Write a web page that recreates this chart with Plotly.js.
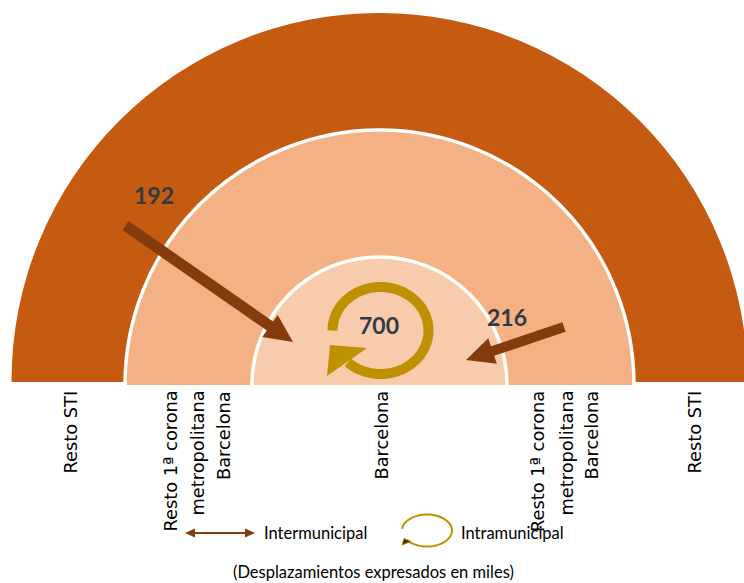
<!DOCTYPE html>
<html>
<head>
<meta charset="utf-8">
<script src="https://cdn.plot.ly/plotly-3.0.1.min.js"></script>
<style>html,body{margin:0;padding:0;background:#fff;}#chart{width:744px;height:583px;}</style>
</head>
<body>
<div id="chart"></div>
<script>
// ---- data ----
const outerLabel = ['Resto STI'];
const middleLabel = ['Resto 1ª corona', 'metropolitana', 'Barcelona'];
const innerLabel = ['Barcelona'];
const flowValues = [192, 700, 216];
const flowKinds = ['Intermunicipal', 'Intramunicipal', 'Intermunicipal'];
const legendLabels = ['Intermunicipal', 'Intramunicipal'];
const noteText = '(Desplazamientos expresados en miles)';

// ---- styles / geometry ----
const C_OUTER = '#C55A11', C_MID = '#F4B183', C_INNER = '#F8CBAD';
const C_ARROW = '#843C0C', C_GOLD = '#BF9000', C_NUM = '#333a44';
const LABEL_FONT = {family: 'DejaVu Sans, Verdana, sans-serif', size: 17.8, color: '#000'};
const SMALL_FONT = {family: 'Lato, Open Sans, sans-serif', size: 16.5, color: '#000'};

function circle(cx, cy, r, fill, lineW) {
  return {type: 'circle', xref: 'x', yref: 'y', x0: cx - r, x1: cx + r, y0: cy - r, y1: cy + r,
    fillcolor: fill, line: {color: '#fff', width: lineW}, layer: 'below'};
}
function rect(x0, y0, x1, y1, fill) {
  return {type: 'rect', xref: 'x', yref: 'y', x0, y0, x1, y1, fillcolor: fill, line: {width: 0}, layer: 'below'};
}
function arrowPath(x0, y0, x1, y1, sw, hw, hl) {
  const dx = x1 - x0, dy = y1 - y0, L = Math.hypot(dx, dy);
  const ux = dx / L, uy = dy / L, nx = -uy, ny = ux;
  const bx = x1 - ux * hl, by = y1 - uy * hl;
  const p = [
    [x0 + nx * sw / 2, y0 + ny * sw / 2], [bx + nx * sw / 2, by + ny * sw / 2],
    [bx + nx * hw / 2, by + ny * hw / 2], [x1, y1],
    [bx - nx * hw / 2, by - ny * hw / 2], [bx - nx * sw / 2, by - ny * sw / 2],
    [x0 - nx * sw / 2, y0 - ny * sw / 2]];
  return 'M' + p.map(q => q[0].toFixed(2) + ',' + q[1].toFixed(2)).join('L') + 'Z';
}
function arcPath(cx, cy, rx, ry, a0, a1, n) {
  const pts = [];
  for (let i = 0; i <= n; i++) {
    const a = (a0 + (a1 - a0) * i / n) * Math.PI / 180;
    pts.push((cx + rx * Math.cos(a)).toFixed(2) + ',' + (cy - ry * Math.sin(a)).toFixed(2));
  }
  return 'M' + pts.join('L');
}
function tri(p) {
  return 'M' + p.map(q => q[0] + ',' + q[1]).join('L') + 'Z';
}

const shapes = [
  circle(379.5, 381, 368, C_OUTER, 0),
  rect(0, 382, 744, 583, '#fff'),
  circle(379.5, 384.5, 254.5, C_MID, 3.5),
  circle(379.5, 384.5, 127.5, C_INNER, 3.5),
  rect(0, 385, 744, 583, '#fff'),
  // intermunicipal arrows
  {type: 'path', xref: 'x', yref: 'y', path: arrowPath(125.5, 225.5, 293, 342, 11, 27, 28), fillcolor: C_ARROW, line: {width: 0}},
  {type: 'path', xref: 'x', yref: 'y', path: arrowPath(564, 327, 466, 360, 10, 27, 28), fillcolor: C_ARROW, line: {width: 0}},
  // intramunicipal circular arrow
  {type: 'path', xref: 'x', yref: 'y', path: arcPath(380.5, 330.5, 48, 43.5, 180, -133, 80), line: {color: C_GOLD, width: 10}},
  {type: 'path', xref: 'x', yref: 'y', path: tri([[327, 376], [330, 345], [367, 348]]), fillcolor: C_GOLD, line: {width: 0}},
  // legend: double arrow
  {type: 'line', xref: 'x', yref: 'y', x0: 192, x1: 248, y0: 533, y1: 533, line: {color: C_ARROW, width: 2}},
  {type: 'path', xref: 'x', yref: 'y', path: tri([[185, 533], [195, 528.5], [195, 537.5]]), fillcolor: C_ARROW, line: {width: 0}},
  {type: 'path', xref: 'x', yref: 'y', path: tri([[255, 533], [245, 528.5], [245, 537.5]]), fillcolor: C_ARROW, line: {width: 0}},
  // legend: ellipse arrow
  {type: 'path', xref: 'x', yref: 'y', path: arcPath(427, 530.5, 25, 16, 174, -143, 60), line: {color: C_GOLD, width: 2}},
  {type: 'path', xref: 'x', yref: 'y', path: tri([[402, 545], [404, 538.5], [411, 541.5]]), fillcolor: '#2b2b2b', line: {color: C_GOLD, width: 1}}
];

const annotations = [];
function rot(text, x) {
  annotations.push({text, x, y: 389, xref: 'x', yref: 'y', showarrow: false, textangle: -90,
    xanchor: 'center', yanchor: 'top', font: LABEL_FONT});
}
rot(outerLabel[0], 70);
rot(middleLabel[0], 170); rot(middleLabel[1], 197); rot(middleLabel[2], 223.5);
rot(innerLabel[0], 381);
rot(middleLabel[0], 537.5); rot(middleLabel[1], 566); rot(middleLabel[2], 591);
rot(outerLabel[0], 694);

annotations.push({text: legendLabels[0], x: 262, y: 533, xref: 'x', yref: 'y', showarrow: false,
  xanchor: 'left', yanchor: 'middle', font: SMALL_FONT});
annotations.push({text: legendLabels[1], x: 459, y: 533, xref: 'x', yref: 'y', showarrow: false,
  xanchor: 'left', yanchor: 'middle', font: SMALL_FONT});
annotations.push({text: noteText, x: 373.5, y: 572, xref: 'x', yref: 'y', showarrow: false,
  xanchor: 'center', yanchor: 'middle', font: SMALL_FONT});

// value labels (positions of the three flow labels)
const valueX = [154, 379, 507];
const valueY = [198, 328.5, 320];

const data = [{
  type: 'scatter', mode: 'text', x: valueX, y: valueY,
  text: flowValues.map(String), hoverinfo: 'skip',
  customdata: flowKinds,
  textfont: {family: 'Lato, Liberation Sans, sans-serif', size: 23, color: C_NUM, weight: 'bold'},
  textposition: 'middle center'
}];

const layout = {
  width: 744, height: 583,
  margin: {l: 0, r: 0, t: 0, b: 0, pad: 0},
  paper_bgcolor: '#fff', plot_bgcolor: '#fff',
  showlegend: false,
  xaxis: {range: [0, 744], visible: false, fixedrange: true},
  yaxis: {range: [583, 0], visible: false, fixedrange: true},
  shapes, annotations
};
Plotly.newPlot('chart', data, layout, {staticPlot: true, displayModeBar: false});
</script>
</body>
</html>
